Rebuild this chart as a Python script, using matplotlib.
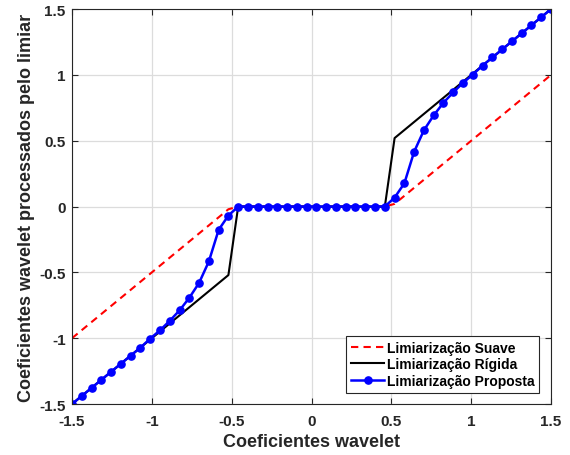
import matplotlib
matplotlib.use("Agg")
import matplotlib.pyplot as plt

# --------------------------------------------------------------------
# Données
# --------------------------------------------------------------------
coef = [-1.5, -1.4388, -1.3776, -1.3163, -1.2551, -1.1939, -1.1327, -1.0714,
        -1.0102, -0.9490, -0.8878, -0.8265, -0.7653, -0.7041, -0.6429, -0.5816,
        -0.5204, -0.4592, -0.3980, -0.3367, -0.2755, -0.2143, -0.1531, -0.0918,
        -0.0306, 0.0306, 0.0918, 0.1531, 0.2143, 0.2755, 0.3367, 0.3980,
        0.4592, 0.5204, 0.5816, 0.6429, 0.7041, 0.7653, 0.8265, 0.8878,
        0.9490, 1.0102, 1.0714, 1.1327, 1.1939, 1.2551, 1.3163, 1.3776,
        1.4388, 1.5]

suave = [-1.0, -0.9388, -0.8776, -0.8163, -0.7551, -0.6939, -0.6327, -0.5714,
         -0.5102, -0.4490, -0.3878, -0.3265, -0.2653, -0.2041, -0.1429, -0.0816,
         -0.0204, 0, 0, 0, 0, 0, 0, 0,
         0, 0, 0, 0, 0, 0, 0, 0,
         0, 0.0204, 0.0816, 0.1429, 0.2041, 0.2653, 0.3265, 0.3878,
         0.4490, 0.5102, 0.5714, 0.6327, 0.6939, 0.7551, 0.8163, 0.8776,
         0.9388, 1.0]

rigida = [-1.5, -1.4388, -1.3776, -1.3163, -1.2551, -1.1939, -1.1327, -1.0714,
          -1.0102, -0.9490, -0.8878, -0.8265, -0.7653, -0.7041, -0.6429, -0.5816,
          -0.5204, 0, 0, 0, 0, 0, 0, 0,
          0, 0, 0, 0, 0, 0, 0, 0,
          0, 0.5204, 0.5816, 0.6429, 0.7041, 0.7653, 0.8265, 0.8878,
          0.9490, 1.0102, 1.0714, 1.1327, 1.1939, 1.2551, 1.3163, 1.3776,
          1.4388, 1.5]

proposta = [-1.5, -1.4388, -1.3776, -1.3163, -1.2551, -1.1939, -1.1327, -1.0714,
            -1.003, -0.940, -0.868, -0.789, -0.693, -0.580, -0.417, -0.177,
            -0.068, 0, 0, 0, 0, 0, 0, 0,
            0, 0, 0, 0, 0, 0, 0, 0,
            0, 0.068, 0.177, 0.417, 0.580, 0.693, 0.789, 0.868,
            0.940, 1.003, 1.0714, 1.1327, 1.1939, 1.2551, 1.3163, 1.3776,
            1.4388, 1.5]

ticks = [-1.5, -1, -0.5, 0, 0.5, 1, 1.5]
tick_labels = ["-1.5", "-1", "-0.5", "0", "0.5", "1", "1.5"]

# --------------------------------------------------------------------
# Figure
# --------------------------------------------------------------------
plt.rcParams["font.family"] = ["Liberation Sans", "DejaVu Sans"]
plt.rcParams["font.weight"] = "bold"

fig = plt.figure(figsize=(5.7, 4.56), dpi=100)
ax = fig.add_axes([0.1263, 0.1118, 0.8404, 0.866])

ax.plot(coef, suave, color="red", linestyle=(0, (3.5, 2.5)), linewidth=1.5,
        label="Limiarização Suave")
ax.plot(coef, rigida, color="black", linewidth=1.5,
        label="Limiarização Rígida")
ax.plot(coef, proposta, color="blue", linewidth=1.8, marker="o",
        markersize=5.2, label="Limiarização Proposta")

ax.set_xlim(-1.5, 1.5)
ax.set_ylim(-1.5, 1.5)
ax.set_xticks(ticks)
ax.set_xticklabels(tick_labels)
ax.set_yticks(ticks)
ax.set_yticklabels(tick_labels)

ax.grid(True, color="#dcdcdc", linewidth=0.9)
ax.set_axisbelow(True)

ax.tick_params(direction="in", top=True, right=True, length=4,
               color="#262626", labelsize=11, labelcolor="#262626")
ax.tick_params(axis="x", pad=7)
ax.tick_params(axis="y", pad=4.5)
for lab in ax.get_xticklabels() + ax.get_yticklabels():
    lab.set_fontweight("bold")
for sp in ax.spines.values():
    sp.set_color("#262626")
    sp.set_linewidth(0.8)

ax.set_xlabel("Coeficientes wavelet", fontsize=13, fontweight="bold",
              color="#262626", labelpad=4)
ax.set_ylabel("Coeficientes wavelet processados pelo limiar", fontsize=13,
              fontweight="bold", color="#262626", labelpad=3)

leg = ax.legend(loc="lower right", bbox_to_anchor=(0.975, 0.028),
                fontsize=10, frameon=True, fancybox=False,
                edgecolor="#262626", framealpha=1, handlelength=2.4,
                handletextpad=0.15, borderpad=0.35, labelspacing=0.2,
                borderaxespad=0)
leg.get_frame().set_linewidth(0.8)
for t in leg.get_texts():
    t.set_fontweight("bold")

fig.savefig("out.png", dpi=100)
